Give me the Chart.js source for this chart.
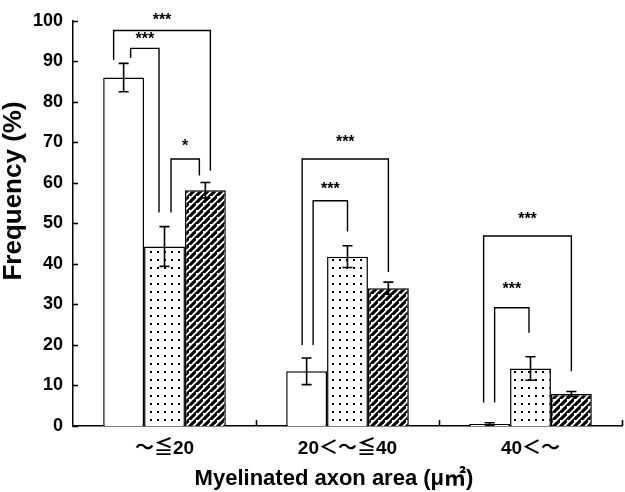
<!DOCTYPE html>
<html><head><meta charset="utf-8">
<script src="https://cdn.jsdelivr.net/npm/chart.js@4.4.1/dist/chart.umd.min.js"></script>
<style>html,body{margin:0;padding:0;background:#fff}#wrap{width:625px;height:492px}</style>
</head><body><div id="wrap"><canvas id="c" width="625" height="492"></canvas></div>
<script>
const categories = ['～≦20', '20＜～≦40', '40＜～'];
const whiteVals = [86, 13.5, 0.5];
const whiteErr = [3.5, 3.3, 0.3];
const dotVals = [44.3, 41.8, 14.2];
const dotErr = [4.9, 2.7, 2.9];
const hatchVals = [58.2, 34.0, 7.9];
const hatchErr = [1.9, 1.5, 0.6];
const yTicks = [0, 10, 20, 30, 40, 50, 60, 70, 80, 90, 100];
// significance brackets: category, left/right dataset, top value, leg end values, label, label value
const brackets = [
  {cat:0, a:0, b:2, top:97.6, endA:90.3, endB:63.0, label:'***', labelY:100.7, dxA:-10, dxB:5},
  {cat:0, a:0, b:1, top:93.2, endA:90.8, endB:52.7, label:'***', labelY:96.0, dxA:7, dxB:-5.5},
  {cat:0, a:1, b:2, top:65.9, endA:52.7, endB:61.8, label:'*', labelY:69.8, dxA:6.5, dxB:-6},
  {cat:1, a:0, b:2, top:65.9, endA:20.0, endB:38.0, label:'***', labelY:70.8, dxA:-4.5, dxB:0},
  {cat:1, a:0, b:1, top:55.6, endA:20.0, endB:48.0, label:'***', labelY:59.2, dxA:6.5, dxB:0},
  {cat:2, a:0, b:2, top:46.9, endA:5.8, endB:13.5, label:'***', labelY:51.7, dxA:-6, dxB:0},
  {cat:2, a:0, b:1, top:29.2, endA:5.8, endB:23.0, label:'***', labelY:34.5, dxA:5, dxB:-1.5}
];

const FONT = '"Liberation Sans", Arial, "Noto Sans CJK JP", sans-serif';

function dotPattern(){
  const c = document.createElement('canvas'); c.width = 7; c.height = 8;
  const g = c.getContext('2d');
  g.fillStyle = '#fff'; g.fillRect(0,0,7,8);
  g.fillStyle = '#000'; g.fillRect(3,3,2,2);
  return g.createPattern(c,'repeat');
}
function hatchPattern(){
  const s = 7;
  const c = document.createElement('canvas'); c.width = s; c.height = s;
  const g = c.getContext('2d');
  g.fillStyle = '#fff'; g.fillRect(0,0,s,s);
  g.strokeStyle = '#000'; g.lineWidth = 3.1;
  g.beginPath();
  g.moveTo(-s, s*2); g.lineTo(s*2, -s);
  g.moveTo(-s*2, s); g.lineTo(s, -s*2);
  g.moveTo(0, s*2); g.lineTo(s*2, 0);
  g.stroke();
  return g.createPattern(c,'repeat');
}

const errs = [whiteErr, dotErr, hatchErr];

const overlay = {
  id:'overlay',
  afterDatasetsDraw(chart){
    const ctx = chart.ctx, y = chart.scales.y, x = chart.scales.x;
    ctx.save();
    // error bars
    ctx.strokeStyle = '#000'; ctx.lineWidth = 1.6;
    chart.data.datasets.forEach((ds, di) => {
      const meta = chart.getDatasetMeta(di);
      meta.data.forEach((bar, i) => {
        const v = ds.data[i], e = errs[di][i];
        const cx = bar.x, y1 = y.getPixelForValue(v + e), y2 = y.getPixelForValue(v - e);
        ctx.beginPath();
        ctx.moveTo(cx, y1); ctx.lineTo(cx, y2);
        ctx.moveTo(cx-5, y1); ctx.lineTo(cx+5, y1);
        ctx.moveTo(cx-5, y2); ctx.lineTo(cx+5, y2);
        ctx.stroke();
      });
    });
    // inward ticks on y
    yTicks.forEach(t => {
      const py = Math.round(y.getPixelForValue(t)) + 0.5;
      ctx.beginPath(); ctx.moveTo(x.left, py); ctx.lineTo(x.left + 5, py); ctx.stroke();
    });
    // inward ticks on x at category boundaries
    for (let i = 1; i <= categories.length; i++) {
      const px = (x.getPixelForValue(i-1) + x.getPixelForValue(i)) / 2;
      const bx = i < categories.length ? px : x.right;
      ctx.beginPath(); ctx.moveTo(Math.round(bx)+0.5, y.bottom); ctx.lineTo(Math.round(bx)+0.5, y.bottom - 6); ctx.stroke();
    }
    // brackets
    ctx.lineWidth = 1.4;
    ctx.fillStyle = '#000';
    ctx.font = 'bold 16px ' + FONT;
    ctx.textAlign = 'center'; ctx.textBaseline = 'middle';
    brackets.forEach(b => {
      const xa = chart.getDatasetMeta(b.a).data[b.cat].x + b.dxA;
      const xb = chart.getDatasetMeta(b.b).data[b.cat].x + b.dxB;
      const yt = y.getPixelForValue(b.top);
      ctx.beginPath();
      ctx.moveTo(xa, y.getPixelForValue(b.endA));
      ctx.lineTo(xa, yt); ctx.lineTo(xb, yt);
      ctx.lineTo(xb, y.getPixelForValue(b.endB));
      ctx.stroke();
      ctx.fillText(b.label, (xa + xb) / 2, y.getPixelForValue(b.labelY) + 3);
    });
    // titles
    ctx.font = 'bold 22px ' + FONT;
    ctx.textBaseline = 'middle';
    ctx.fillText('Myelinated axon area (μ㎡)', 334, 479);
    ctx.font = 'bold 26px ' + FONT;
    ctx.translate(14, 191);
    ctx.rotate(-Math.PI/2);
    ctx.fillText('Frequency (%)', 0, 0);
    ctx.restore();
  }
};

new Chart(document.getElementById('c'), {
  type: 'bar',
  data: {
    labels: categories,
    datasets: [
      {data: whiteVals, backgroundColor: '#fff', borderColor: '#000', borderWidth: 1.5},
      {data: dotVals, backgroundColor: dotPattern(), borderColor: '#000', borderWidth: 1.5},
      {data: hatchVals, backgroundColor: hatchPattern(), borderColor: '#000', borderWidth: 1.5}
    ]
  },
  options: {
    responsive: false,
    animation: false,
    devicePixelRatio: 1,
    layout: {padding: {top: 12, right: 3, left: 0, bottom: 0}},
    datasets: {bar: {categoryPercentage: 0.67, barPercentage: 1.0}},
    plugins: {legend: {display: false}, tooltip: {enabled: false}},
    scales: {
      x: {
        grid: {display: false, drawTicks: false},
        border: {display: true, color: '#000', width: 1.5},
        ticks: {color: '#000', padding: 11, font: {family: FONT, size: 19, weight: 'bold'}},
        afterFit(s){ s.height = 66; }
      },
      y: {
        min: 0, max: 100,
        grid: {display: false, drawTicks: false},
        border: {display: true, color: '#000', width: 1.5},
        afterBuildTicks(s){ s.ticks = yTicks.map(v => ({value: v})); },
        ticks: {color: '#000', padding: 10, font: {family: FONT, size: 18, weight: 'bold'}},
        afterFit(s){ s.width = 73; }
      }
    }
  },
  plugins: [overlay]
});
</script>
</body></html>
